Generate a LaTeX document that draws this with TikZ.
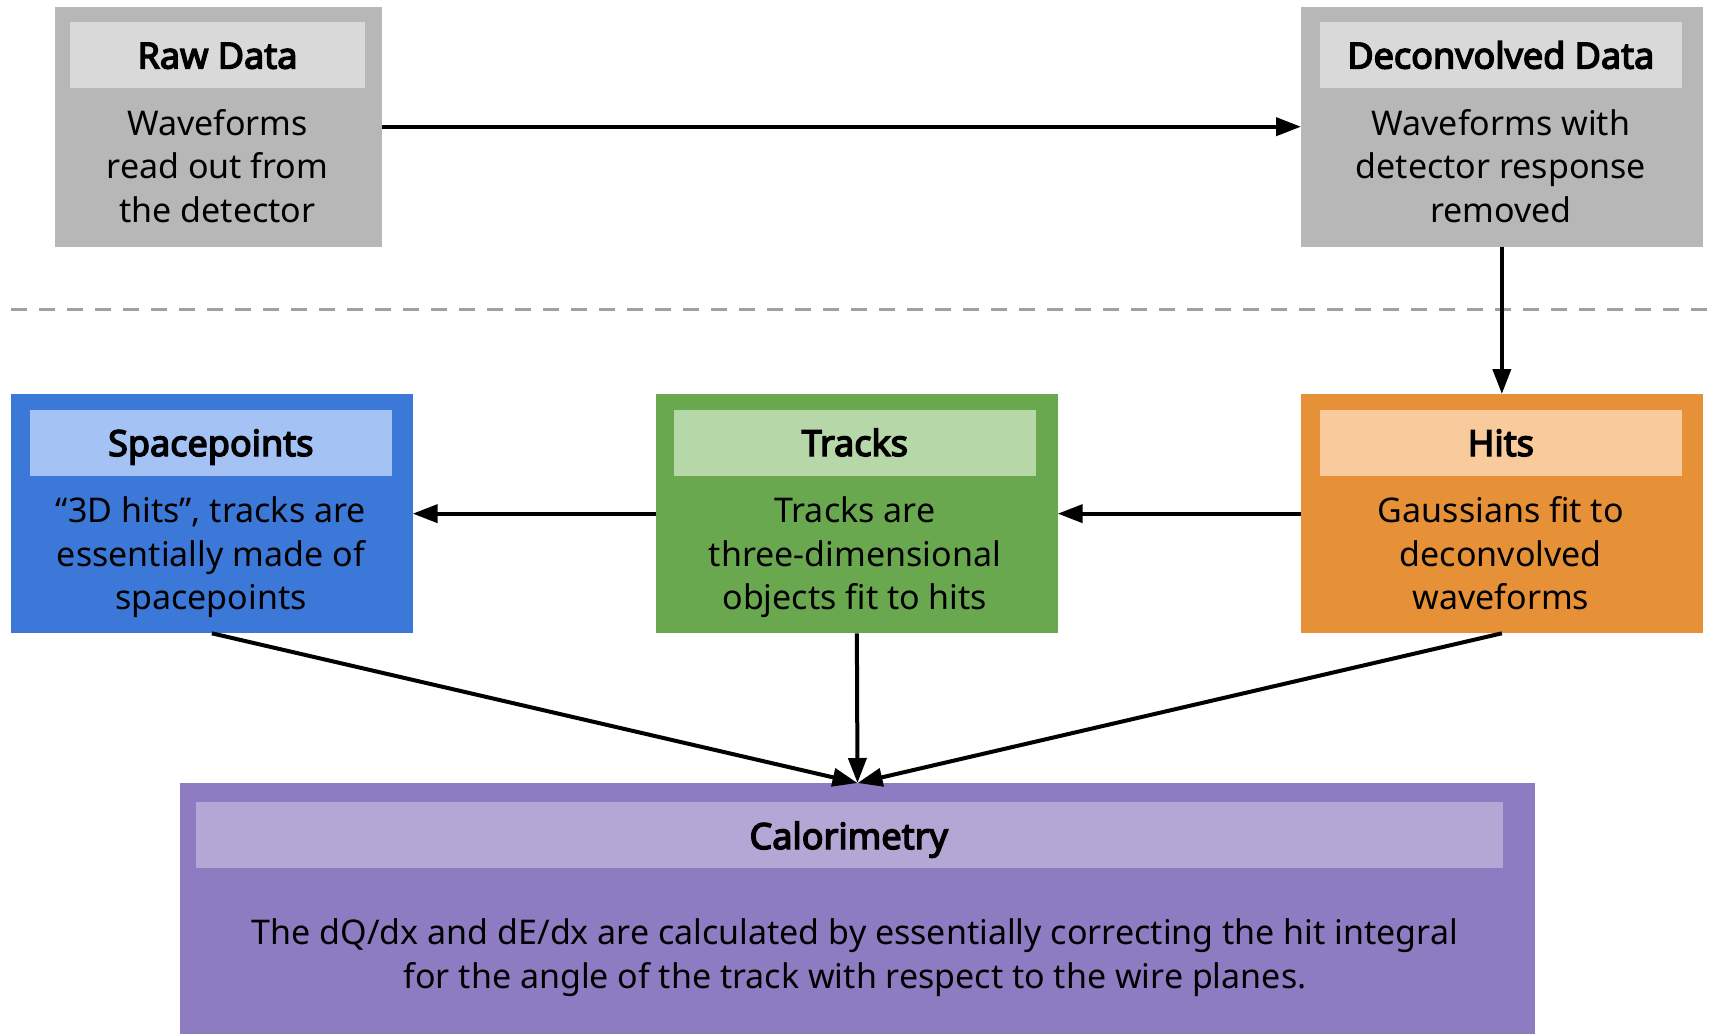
\documentclass[tikz,border=0pt]{standalone}
\usepackage{fontspec}
\setmainfont{Noto Sans}[BoldFont={Noto Sans},BoldFeatures={FakeBold=4}]
\usetikzlibrary{arrows.meta}
\definecolor{grayout}{HTML}{B7B7B7}
\definecolor{grayhead}{HTML}{D9D9D9}
\definecolor{blueout}{HTML}{3C78D8}
\definecolor{bluehead}{HTML}{A4C2F4}
\definecolor{greenout}{HTML}{6AA84F}
\definecolor{greenhead}{HTML}{B6D7A8}
\definecolor{orangeout}{HTML}{E69138}
\definecolor{orangehead}{HTML}{F9CB9C}
\definecolor{purpleout}{HTML}{8E7CC3}
\definecolor{purplehead}{HTML}{B4A7D6}
\definecolor{dashcol}{HTML}{A0A0A0}
\begin{document}
\begin{tikzpicture}[x=1pt,y=-1pt,
  panel/.style={rectangle, draw=none, inner sep=0pt, outer sep=0pt},
  titletext/.style={font=\fontsize{36}{43.5}\selectfont\bfseries, anchor=base, inner sep=0pt},
  bodytext/.style={font=\fontsize{34}{43.5}\selectfont, align=center, anchor=base, inner sep=0pt},
  conn/.style={line width=4pt, -{Triangle[length=25pt,width=18pt]}}]
\useasboundingbox[fill=white] (0,0) rectangle (1710,1034);

% dashed separator
\coordinate (sepL) at (11,309.3);
\coordinate (sepR) at (1710,309.3);
\draw[dashcol, line width=3.5pt, dash pattern=on 16pt off 12pt] (sepL) -- (sepR);

% Raw Data
\node[panel, fill=grayout, minimum width=326.7pt, minimum height=240pt] (raw) at (218.35,126.7) {};
\node[panel, fill=grayhead, minimum width=295pt, minimum height=65.7pt] (rawh) at (217.5,54.85) {};
\node[titletext] (rawt) at (217.5,68.5) {Raw Data};
\node[bodytext] (rawb) at (217.5,222) {Waveforms\\read out from\\the detector};

% Deconvolved Data
\node[panel, fill=grayout, minimum width=401.7pt, minimum height=240pt] (dec) at (1501.85,126.7) {};
\node[panel, fill=grayhead, minimum width=361.7pt, minimum height=65.7pt] (dech) at (1500.85,54.85) {};
\node[titletext] (dect) at (1500.85,68.5) {Deconvolved Data};
\node[bodytext] (decb) at (1500.85,222) {Waveforms with\\detector response\\removed};

% Spacepoints
\node[panel, fill=blueout, minimum width=401.7pt, minimum height=239.3pt] (sp) at (211.85,513.65) {};
\node[panel, fill=bluehead, minimum width=361.7pt, minimum height=65.7pt] (sph) at (210.85,442.85) {};
\node[titletext] (spt) at (210.85,456) {Spacepoints};
\node[bodytext] (spb) at (210.85,609.7) {“3D hits”, tracks are\\essentially made of\\spacepoints};

% Tracks
\node[panel, fill=greenout, minimum width=401.7pt, minimum height=239.3pt] (tr) at (856.85,513.65) {};
\node[panel, fill=greenhead, minimum width=361.7pt, minimum height=65.7pt] (trh) at (854.85,442.85) {};
\node[titletext] (trt) at (854.85,456) {Tracks};
\node[bodytext] (trb) at (854.85,609.7) {Tracks are\\three-dimensional\\objects fit to hits};

% Hits
\node[panel, fill=orangeout, minimum width=401.7pt, minimum height=239.3pt] (hits) at (1501.85,513.65) {};
\node[panel, fill=orangehead, minimum width=361.7pt, minimum height=65.7pt] (hitsh) at (1500.85,442.85) {};
\node[titletext] (hitst) at (1500.85,456) {Hits};
\node[bodytext] (hitsb) at (1500.85,609.7) {Gaussians fit to\\deconvolved\\waveforms};

% Calorimetry
\node[panel, fill=purpleout, minimum width=1355pt, minimum height=251pt] (cal) at (857.5,908.5) {};
\node[panel, fill=purplehead, minimum width=1307pt, minimum height=65.7pt] (calh) at (849.5,834.85) {};
\node[titletext] (calt) at (848.7,849) {Calorimetry};
\node[bodytext] (calb) at (855,988.3) {The dQ/dx and dE/dx are calculated by essentially correcting the hit integral\\for the angle of the track with respect to the wire planes.};
\coordinate (calin) at (857.5,783);

% connectors
\draw[conn] (raw.east) -- (dec.west);
\draw[conn] (dec.south) -- (hits.north);
\draw[conn] (hits.west) -- (tr.east);
\draw[conn] (tr.west) -- (sp.east);
\draw[conn] (sp.south) -- (calin);
\draw[conn] (tr.south) -- (calin);
\draw[conn] (hits.south) -- (calin);
\end{tikzpicture}
\end{document}
